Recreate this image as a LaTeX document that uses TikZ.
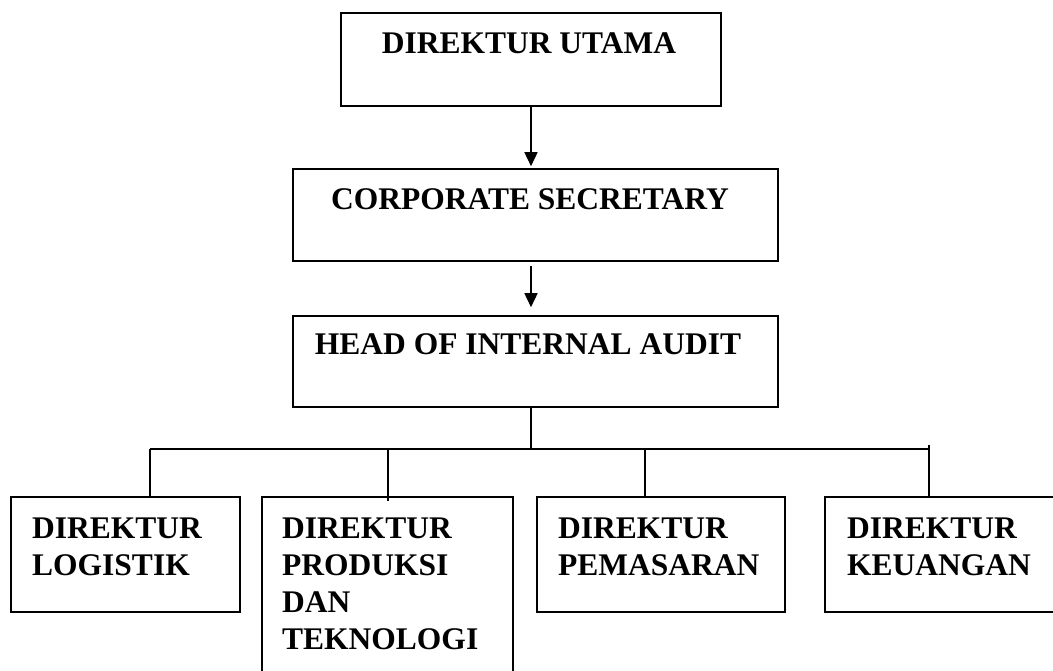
\documentclass[tikz,border=0pt]{standalone}
\usepackage{fontspec}
\setmainfont{Liberation Serif}
\usetikzlibrary{arrows.meta}
\begin{document}
\begin{tikzpicture}[x=1pt,y=-1pt,
  box/.style={draw,line width=1.6pt,inner sep=0pt,minimum width=#1},
  lbl/.style={inner sep=0pt,font=\bfseries\fontsize{31.5}{37}\selectfont,align=left},
  conn/.style={line width=1.6pt},
  arr/.style={line width=1.6pt,-{Triangle[length=14pt,width=13pt]}}]
\useasboundingbox (0,0) rectangle (1053,671);
\clip (0,0) rectangle (1053,671);
% boxes
\node[box=380pt,minimum height=93pt] (top) at (531,59.5) {};
\node[box=485pt,minimum height=92pt] (sec) at (535.5,215) {};
\node[box=485pt,minimum height=91pt] (hoia) at (535.5,361.5) {};
\node[box=229pt,minimum height=115pt] (b1) at (125.5,554.5) {};
\node[box=251pt,minimum height=203pt] (b2) at (387.5,598.5) {};
\node[box=248pt,minimum height=115pt] (b3) at (661,554.5) {};
\node[box=245pt,minimum height=115pt] (b4) at (947.5,554.5) {};
% texts (base anchor = baseline of the last line)
\node[lbl,anchor=base] (t0) at (529,53.5) {DIREKTUR UTAMA};
\node[lbl,anchor=base] (t1) at (530,210) {CORPORATE SECRETARY};
\node[lbl,anchor=base] (t2) at (528,355) {HEAD OF INTERNAL AUDIT};
\node[lbl,anchor=base west] (t3) at (32,575) {DIREKTUR\\LOGISTIK};
\node[lbl,anchor=base west] (t4) at (282,649) {DIREKTUR\\PRODUKSI\\DAN\\TEKNOLOGI};
\node[lbl,anchor=base west] (t5) at (558,575) {DIREKTUR\\PEMASARAN};
\node[lbl,anchor=base west] (t6) at (847,575) {DIREKTUR\\KEUANGAN};
% connectors
\coordinate (ax) at (531,0);
\coordinate (jm) at (531,449);
\coordinate (jl) at (150,449);
\coordinate (j2) at (388,449);
\coordinate (j3) at (645,449);
\coordinate (jr) at (929,449);
\draw[arr,shorten >=2pt] (ax |- top.south) -- (ax |- sec.north);
\draw[arr,shorten <=4pt,shorten >=8pt] (ax |- sec.south) -- (ax |- hoia.north);
\draw[conn] (jm |- hoia.south) -- (jm);
\draw[conn] (jl) -- (jr);
\draw[conn] (jl) -- (jl |- b1.north);
\draw[conn] (j2) -- ([yshift=-5pt]j2 |- b2.north);
\draw[conn] (j3) -- (j3 |- b3.north);
\draw[conn] ([yshift=4pt]jr) -- (jr |- b4.north);
\end{tikzpicture}
\end{document}
